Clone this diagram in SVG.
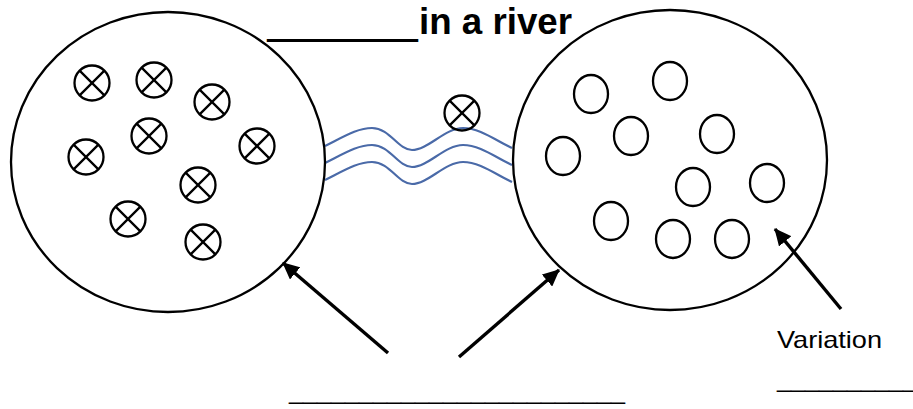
<svg xmlns="http://www.w3.org/2000/svg" width="913" height="409" viewBox="0 0 913 409">
  <style>
    .big { fill: none; stroke: #000; stroke-width: 2.3; }
    .dot { fill: none; stroke: #000; stroke-width: 2.3; }
    .wave { fill: none; stroke: #4a6aa8; stroke-width: 2.2; }
    .arrow { stroke: #000; stroke-width: 3.4; fill: none; }
    .title { font-family: "Liberation Sans", Arial, sans-serif; font-weight: bold; font-size: 36.5px; fill: #000; }
    .lbl { font-family: "Liberation Sans", Arial, sans-serif; font-size: 24px; fill: #000; }
  </style>
  <defs>
    <marker id="ah" markerUnits="userSpaceOnUse" markerWidth="18" markerHeight="16" refX="16" refY="8" orient="auto">
      <path d="M0,0 L17,8 L0,16 Z" fill="#000"/>
    </marker>
    <g id="xc">
      <circle r="17.5" class="dot"/>
      <path d="M-12.4,-12.4 L12.4,12.4 M12.4,-12.4 L-12.4,12.4" class="dot"/>
    </g>
    <ellipse id="oc" rx="17" ry="19" class="dot"/>
  </defs>
  <rect width="913" height="409" fill="#fff"/>

  <text class="title" x="268" y="34"><tspan dy="3" stroke="#000" stroke-width="1.6" textLength="149" lengthAdjust="spacingAndGlyphs">_______</tspan><tspan x="419" dy="-3" textLength="153" lengthAdjust="spacingAndGlyphs">in a river</tspan></text>

  <g id="river">
    <path class="wave" d="M325,146 C345,136 358,128 372,128 C390,128 398,150 412,150 C428,150 445,128 463,128 C480,128 495,140 512,148"/>
    <path class="wave" d="M325,163 C345,153 358,145 372,145 C390,145 398,167 412,167 C428,167 445,145 463,145 C480,145 495,157 512,165"/>
    <path class="wave" d="M325,180 C345,170 358,162 372,162 C390,162 398,184 412,184 C428,184 445,162 463,162 C480,162 495,174 512,182"/>
  </g>

  <g id="left-population">
    <ellipse class="big" cx="168" cy="162" rx="157" ry="150"/>
    <use href="#xc" x="92" y="83"/>
    <use href="#xc" x="154" y="80"/>
    <use href="#xc" x="212" y="102"/>
    <use href="#xc" x="149" y="136"/>
    <use href="#xc" x="257" y="146"/>
    <use href="#xc" x="86" y="157"/>
    <use href="#xc" x="198" y="185"/>
    <use href="#xc" x="128" y="219"/>
    <use href="#xc" x="203" y="242"/>
  </g>

  <g id="migrant">
    <use href="#xc" x="462" y="113"/>
  </g>

  <g id="right-population">
    <ellipse class="big" cx="670" cy="160" rx="157" ry="150"/>
    <use href="#oc" x="591" y="94"/>
    <use href="#oc" x="670" y="81"/>
    <use href="#oc" x="631" y="136"/>
    <use href="#oc" x="717" y="134"/>
    <use href="#oc" x="563" y="156"/>
    <use href="#oc" x="693" y="187"/>
    <use href="#oc" x="767" y="183"/>
    <use href="#oc" x="611" y="221"/>
    <use href="#oc" x="673" y="239"/>
    <use href="#oc" x="732" y="239"/>
  </g>

  <g id="connectors">
    <line class="arrow" x1="388" y1="353" x2="283" y2="263" marker-end="url(#ah)"/>
    <line class="arrow" x1="459" y1="357" x2="559" y2="270" marker-end="url(#ah)"/>
    <line class="arrow" x1="841" y1="309" x2="775" y2="229" marker-end="url(#ah)"/>
  </g>

  <g id="labels">
    <text class="lbl" x="777" y="348" textLength="105" lengthAdjust="spacingAndGlyphs">Variation</text>
    <text class="lbl" x="777" y="387" textLength="140" lengthAdjust="spacingAndGlyphs">__________</text>
    <text class="lbl" x="289" y="399" textLength="336" lengthAdjust="spacingAndGlyphs">________________________</text>
  </g>
</svg>
